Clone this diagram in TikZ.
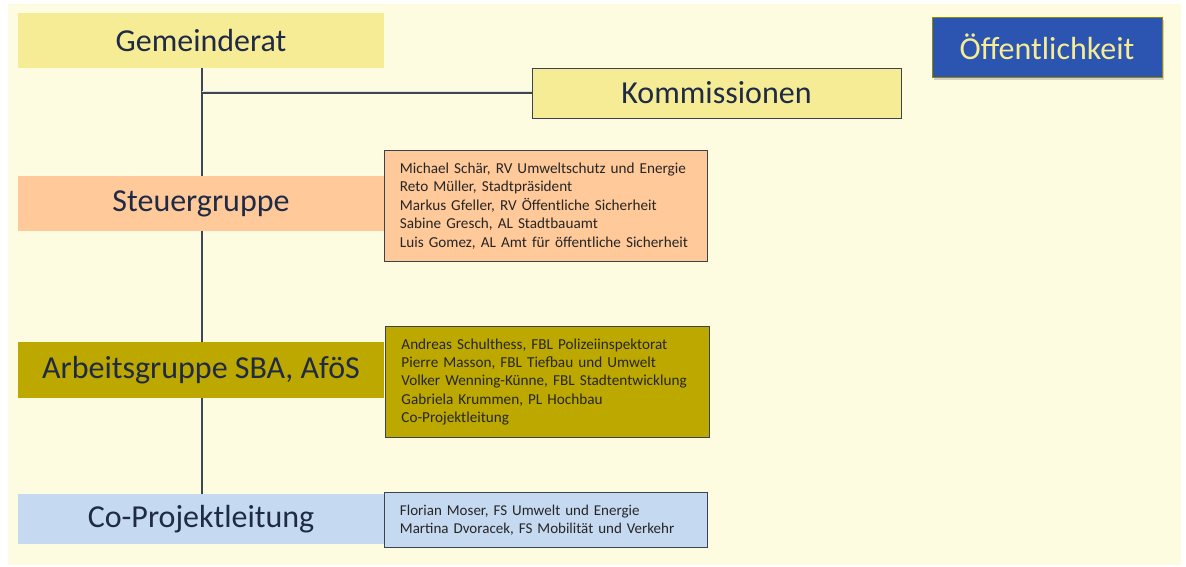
\documentclass[tikz,border=0pt]{standalone}
\usepackage{fontspec}
\setmainfont{Carlito}
\usetikzlibrary{shadows}
\definecolor{bgcream}{HTML}{FEFCE0}
\definecolor{gelb}{HTML}{F6EC96}
\definecolor{peach}{HTML}{FFC999}
\definecolor{olive}{HTML}{BDA800}
\definecolor{hblau}{HTML}{C5D9F1}
\definecolor{dblau}{HTML}{2B55B0}
\definecolor{navy}{HTML}{1F2A44}
\definecolor{linie}{HTML}{3E4555}
\definecolor{rand}{HTML}{3C4350}
\tikzset{
  levelbox/.style={rectangle, inner sep=0pt, minimum width=366pt, minimum height=55pt,
    font=\fontsize{32}{36}\selectfont, text=navy},
  memberbox/.style={rectangle, draw=rand, line width=0.9pt, inner sep=0pt, anchor=north west,
    minimum width=323pt, text width=292pt, align=left,
    font=\fontsize{15.2}{18.4}\selectfont, text=black!85},
  conn/.style={draw=linie, line width=1.1pt},
}
\begin{document}
\begin{tikzpicture}[x=1pt,y=-1pt]
\useasboundingbox (0,0) rectangle (1186,566);
\fill[white] (0,0) rectangle (1186,566);
\fill[bgcream] (8,4) rectangle (1181,565);

% connectors (behind boxes)
\coordinate (top) at (202,68);
\coordinate (bot) at (202,494);
\coordinate (branch) at (202,93);
\draw[conn] (top) -- (bot);

% level boxes
\node[levelbox, fill=gelb] (gr) at (201,40.5) {Gemeinderat};
\node[levelbox, fill=peach] (sg) at (201,203.5) {Steuergruppe};
\node[levelbox, fill=olive, minimum height=56pt] (ag) at (201,370) {Arbeitsgruppe SBA, AföS};
\node[levelbox, fill=hblau, minimum height=50pt] (cp) at (201,519) {Co-Projektleitung};

% Kommissionen
\node[rectangle, draw=rand, line width=0.9pt, fill=gelb, minimum width=369pt, minimum height=50pt,
  inner sep=0pt, font=\fontsize{32}{36}\selectfont, text=navy] (ko) at (716.5,93) {Kommissionen};
\draw[conn, draw=black!12, line width=1.4pt] ([yshift=1.2pt]branch) -- ([yshift=1.2pt]ko.west);
\draw[conn] (branch) -- (ko.west);

% member boxes
\node[memberbox, fill=peach, minimum height=111pt] (sgm) at (384,150) {%
  Michael Schär, RV Umweltschutz und Energie\\
  Reto Müller, Stadtpräsident\\
  Markus Gfeller, RV Öffentliche Sicherheit\\
  Sabine Gresch, AL Stadtbauamt\\
  Luis Gomez, AL Amt für öffentliche Sicherheit};
\node[memberbox, fill=olive, minimum width=324pt, minimum height=111pt] (agm) at (385,326) {%
  Andreas Schulthess, FBL Polizeiinspektorat\\
  Pierre Masson, FBL Tiefbau und Umwelt\\
  Volker Wenning-Künne, FBL Stadtentwicklung\\
  Gabriela Krummen, PL Hochbau\\
  Co-Projektleitung};
\node[memberbox, fill=hblau, minimum height=55pt, font=\fontsize{15}{18.4}\selectfont] (cpm) at (384,492) {%
  Florian Moser, FS Umwelt und Energie\\
  Martina Dvoracek, FS Mobilität und Verkehr};

% Öffentlichkeit
\node[rectangle, draw=olive!80!black, line width=0.8pt, fill=dblau, minimum width=230pt, minimum height=60pt,
  inner sep=0pt, font=\fontsize{32}{36}\selectfont, text=gelb,
  drop shadow={opacity=0.35, shadow xshift=2pt, shadow yshift=-3pt}] (oe) at (1047,47) {Öffentlichkeit};
\end{tikzpicture}
\end{document}
